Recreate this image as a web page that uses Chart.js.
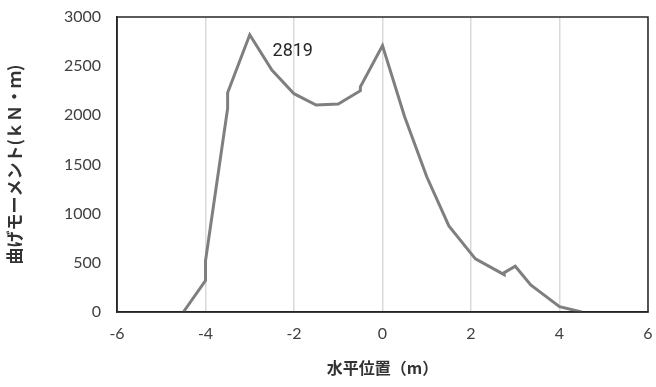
<!DOCTYPE html>
<html>
<head>
<meta charset="utf-8">
<script src="https://cdn.jsdelivr.net/npm/chart.js@4.4.0/dist/chart.umd.min.js"></script>
<style>
  html, body { margin: 0; padding: 0; background: #ffffff; }
  #wrap { width: 656px; height: 387px; position: relative; }
</style>
</head>
<body>
<div id="wrap"><canvas id="c"></canvas></div>
<script>
// Data
const positions = [-4.5, -4, -4, -3.5, -3.5, -3, -2.5, -2, -1.5, -1, -0.5, -0.5, 0, 0.5, 1, 1.5, 2.1, 2.75, 2.75, 3, 3.35, 4, 4.5];
const moments   = [0, 320, 520, 2070, 2230, 2819, 2460, 2220, 2105, 2115, 2250, 2290, 2710, 1985, 1375, 875, 540, 380, 400, 465, 275, 55, 0];
const xTickValues = [-6, -4, -2, 0, 2, 4, 6];
const yTickValues = [0, 500, 1000, 1500, 2000, 2500, 3000];
const labelIndex = 5; // peak value annotated
const xTitle = '水平位置（m）';
const yTitle = '曲げモーメント(ｋＮ・ｍ)';

const points = positions.map((x, i) => ({ x: x, y: moments[i] }));

const frameAndLabel = {
  id: 'frameAndLabel',
  afterDraw(chart) {
    const ctx = chart.ctx;
    const a = chart.chartArea;
    ctx.save();
    ctx.strokeStyle = '#262626';
    ctx.lineWidth = 1.5;
    ctx.strokeRect(a.left, a.top, a.right - a.left, a.bottom - a.top);
    const pt = chart.getDatasetMeta(0).data[labelIndex];
    ctx.fillStyle = '#262626';
    ctx.font = '18px Roboto';
    ctx.textAlign = 'center';
    ctx.textBaseline = 'middle';
    ctx.fillText(String(moments[labelIndex]), pt.x + 43, pt.y + 17);
    ctx.restore();
  }
};

new Chart(document.getElementById('c'), {
  type: 'line',
  data: {
    datasets: [{
      data: points,
      borderColor: '#7f7f7f',
      borderWidth: 3,
      pointRadius: 0,
      fill: false,
      tension: 0
    }]
  },
  options: {
    responsive: true,
    maintainAspectRatio: false,
    animation: false,
    layout: { padding: { top: 17, right: 8, left: 0, bottom: 0 } },
    plugins: { legend: { display: false }, tooltip: { enabled: false } },
    scales: {
      x: {
        type: 'linear',
        min: -6, max: 6,
        afterBuildTicks: s => { s.ticks = xTickValues.map(v => ({ value: v })); },
        afterFit: s => { s.height = 75; s.paddingLeft = 0; s.paddingRight = 0; },
        grid: { display: true, color: '#d9d9d9', lineWidth: 1.5, drawTicks: false },
        border: { display: true, color: '#262626', width: 1.5 },
        ticks: { color: '#404040', font: { family: 'Lato', size: 16 }, padding: 12,
                 callback: v => String(v) },
        title: { display: true, text: xTitle, color: '#333333',
                 font: { family: 'Noto Sans CJK JP', size: 16, weight: 'bold' }, padding: { top: 0, bottom: 9 } }
      },
      y: {
        min: 0, max: 3000,
        afterBuildTicks: s => { s.ticks = yTickValues.map(v => ({ value: v })); },
        afterFit: s => { s.width = 117; s.paddingTop = 0; s.paddingBottom = 0; },
        grid: { display: false, drawTicks: false },
        border: { display: true, color: '#262626', width: 1.5 },
        ticks: { color: '#404040', font: { family: 'Lato', size: 16 }, padding: 16,
                 callback: v => String(v) },
        title: { display: true, text: yTitle, color: '#333333',
                 font: { family: 'Noto Sans CJK JP', size: 17, weight: 'bold' }, padding: { top: 4, bottom: 0 } }
      }
    }
  },
  plugins: [frameAndLabel]
});
</script>
</body>
</html>
